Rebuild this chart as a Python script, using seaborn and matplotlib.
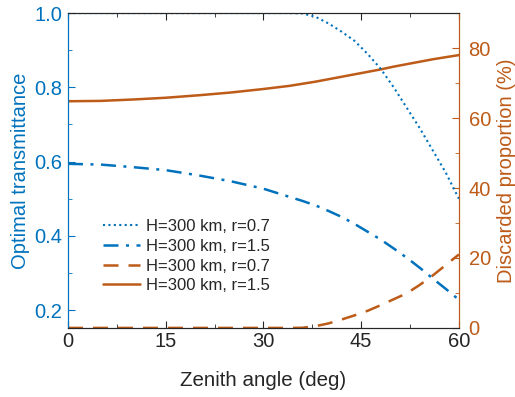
import numpy as np
import pandas as pd
import matplotlib
matplotlib.use("Agg")
import matplotlib.pyplot as plt
import seaborn as sns
from matplotlib.ticker import MultipleLocator

# zenith angle grid (deg)
zenith = [0, 5, 10, 15, 20, 25, 30, 34, 36, 38, 40, 42, 44, 46, 48, 50, 52, 54, 56, 58, 60]

# optimal transmittance
trans_r07 = [1.0, 1.0, 1.0, 1.0, 1.0, 1.0, 1.0, 1.0, 0.999, 0.99, 0.972, 0.95, 0.925,
             0.89, 0.85, 0.80, 0.745, 0.69, 0.63, 0.57, 0.50]
trans_r15 = [0.594, 0.592, 0.585, 0.577, 0.563, 0.547, 0.527, 0.505, 0.494, 0.482, 0.467,
             0.451, 0.432, 0.411, 0.390, 0.366, 0.341, 0.314, 0.285, 0.257, 0.228]

# discarded proportion (%)
disc_r07 = [0, 0, 0, 0, 0, 0, 0, 0, 0.05, 0.5, 1.3, 2.4, 3.6, 4.9, 6.5, 8.2, 9.9,
            12.3, 15.0, 18.0, 21.0]
disc_r15 = [64.8, 64.9, 65.3, 65.8, 66.5, 67.3, 68.3, 69.2, 69.8, 70.4, 71.1, 71.8, 72.5,
            73.2, 73.9, 74.7, 75.4, 76.1, 76.8, 77.4, 78.0]

labels = ["H=300 km, r=0.7", "H=300 km, r=1.5", "H=300 km, r=0.7", "H=300 km, r=1.5"]

blue = "#0072BD"
orange = "#BD5B18"

sns.set_style("ticks")
plt.rcParams["font.family"] = ["Liberation Sans", "DejaVu Sans"]

df = pd.DataFrame({"zenith": zenith, "t07": trans_r07, "t15": trans_r15,
                   "d07": disc_r07, "d15": disc_r15})

fig = plt.figure(figsize=(5.15, 3.97), dpi=100)
ax = fig.add_axes([0.132, 0.174, 0.759, 0.793])
ax2 = ax.twinx()

sns.lineplot(data=df, x="zenith", y="t07", ax=ax, color=blue, lw=1.5,
             linestyle=(0, (1, 1.6)), label=labels[0], legend=False)
sns.lineplot(data=df, x="zenith", y="t15", ax=ax, color=blue, lw=1.8,
             linestyle=(0, (6, 3, 1.2, 3)), label=labels[1], legend=False)
sns.lineplot(data=df, x="zenith", y="d07", ax=ax2, color=orange, lw=1.8,
             linestyle=(0, (6, 4)), label=labels[2], legend=False)
sns.lineplot(data=df, x="zenith", y="d15", ax=ax2, color=orange, lw=1.8,
             label=labels[3], legend=False)

ax.set_xlim(0, 60)
ax.set_ylim(0.152, 1.0)
ax2.set_ylim(0, 90)
ax.set_xticks([0, 15, 30, 45, 60])
ax.xaxis.set_minor_locator(MultipleLocator(7.5))
ax.set_yticks([0.2, 0.4, 0.6, 0.8, 1.0])
ax.yaxis.set_minor_locator(MultipleLocator(0.1))
ax2.set_yticks([0, 20, 40, 60, 80])
ax2.yaxis.set_minor_locator(MultipleLocator(10))

ax.set_xlabel("Zenith angle (deg)", fontsize=14.8, labelpad=14)
ax.set_ylabel("Optimal transmittance", fontsize=14.5, color=blue, labelpad=3)
ax2.set_ylabel("Discarded proportion (%)", fontsize=14.5, color=orange, labelpad=4)

ax.tick_params(axis="x", which="both", direction="in", top=True, labelsize=14.5,
               colors="#262626", pad=3)
ax.tick_params(axis="x", which="major", length=5)
ax.tick_params(axis="x", which="minor", length=3)
ax.tick_params(axis="y", which="both", direction="in", colors=blue, labelsize=14.5, pad=4)
ax.tick_params(axis="y", which="major", length=5)
ax.tick_params(axis="y", which="minor", length=3)
ax2.tick_params(axis="y", which="both", direction="in", colors=orange, labelsize=14.5, pad=7)
ax2.tick_params(axis="y", which="major", length=5)
ax2.tick_params(axis="y", which="minor", length=3)

for a in (ax, ax2):
    a.spines["top"].set_visible(True)
    a.spines["top"].set_color("#262626")
    a.spines["bottom"].set_color("#262626")
    a.spines["left"].set_color(blue)
    a.spines["right"].set_color(orange)
    for s in a.spines.values():
        s.set_linewidth(0.8)

h1, l1 = ax.get_legend_handles_labels()
h2, l2 = ax2.get_legend_handles_labels()
leg = ax.legend(h1 + h2, l1 + l2, loc="upper left", bbox_to_anchor=(0.09, 0.345),
                frameon=False, fontsize=12, handlelength=2.2, handletextpad=0.36,
                labelspacing=0.28, borderpad=0, borderaxespad=0)
ax.set_zorder(ax2.get_zorder() + 1)
ax.patch.set_visible(False)

fig.savefig("out.png", dpi=100)
